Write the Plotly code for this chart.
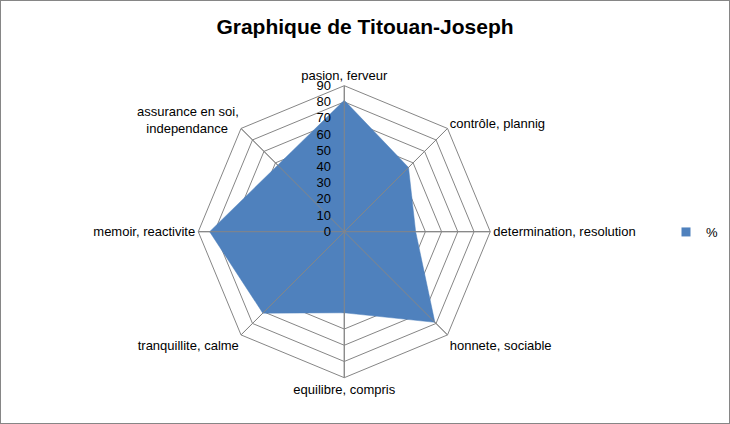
import plotly.graph_objects as go

# categories, clockwise from the top
categories = [
    "pasion, ferveur",
    "contrôle, plannig",
    "determination, resolution",
    "honnete, sociable",
    "equilibre, compris",
    "tranquillite, calme",
    "memoir, reactivite",
    "\u00a0<br>assurance en soi,<br>independance\u00a0\u00a0\u00a0",
]
values = [81, 56, 44, 79, 50, 71, 83, 58]
series_name = "%"
tick_values = [0, 10, 20, 30, 40, 50, 60, 70, 80, 90]
# trailing spaces keep the numbers clear of the vertical spoke
tick_labels = [f"{v}\u00a0\u00a0\u00a0" for v in tick_values]

BLUE = "#4F81BD"
GRID = "#868686"
FONT = "Liberation Sans"

fig = go.Figure()

# filled area (closed polygon)
fig.add_trace(go.Scatterpolar(
    r=values + values[:1],
    theta=categories + categories[:1],
    fill="toself",
    fillcolor=BLUE,
    mode="lines",
    line=dict(color=BLUE, width=0.5),
    name=series_name,
    showlegend=False,
    hoverinfo="skip",
))

# spokes drawn above the fill, like in Excel
r_max = tick_values[-1]
spoke_r, spoke_t = [], []
for c in categories:
    spoke_r += [0, r_max, None]
    spoke_t += [c, c, c]
fig.add_trace(go.Scatterpolar(
    r=spoke_r, theta=spoke_t, mode="lines",
    line=dict(color=GRID, width=1),
    showlegend=False, hoverinfo="skip",
))

# legend entry with a square marker
fig.add_trace(go.Scatterpolar(
    r=[None], theta=[categories[0]], mode="markers",
    marker=dict(symbol="square", size=9, color=BLUE),
    name=series_name, showlegend=True,
))

fig.update_layout(
    width=730, height=424,
    margin=dict(l=0, r=0, t=0, b=0),
    paper_bgcolor="white",
    font=dict(family=FONT, size=12, color="black"),
    title=dict(text="<b>Graphique de Titouan-Joseph</b>", x=0.5, xanchor="center",
               y=1 - 27 / 424, yanchor="middle",
               font=dict(family=FONT, size=21, color="black")),
    polar=dict(
        domain=dict(x=[0.2716, 0.6716], y=[0.1092, 0.7979]),
        bgcolor="white",
        gridshape="linear",
        angularaxis=dict(
            direction="clockwise", rotation=90,
            showline=True, linecolor=GRID, linewidth=1,
            gridcolor=GRID, gridwidth=1,
            ticks="", tickfont=dict(family=FONT, size=13, color="black"),
        ),
        radialaxis=dict(
            range=[0, r_max], tickvals=tick_values, ticktext=tick_labels, angle=90,
            side="counterclockwise", tickangle=90,
            showline=False, gridcolor=GRID, gridwidth=1,
            ticks="",
            tickfont=dict(family=FONT, size=13, color="black"),
            layer="above traces",
        ),
    ),
    legend=dict(x=666 / 730, y=1 - 232 / 424, xanchor="left", yanchor="middle",
                font=dict(family=FONT, size=13, color="black"),
                bgcolor="rgba(0,0,0,0)"),
    shapes=[dict(type="rect", xref="paper", yref="paper", x0=0, y0=0, x1=1, y1=1,
                 line=dict(color=GRID, width=2))],
)

# drop the browser's default page margin so the figure sits at 0,0
fig.write_html("out.html", config={"displayModeBar": False},
               post_script="document.body.style.margin='0';")
